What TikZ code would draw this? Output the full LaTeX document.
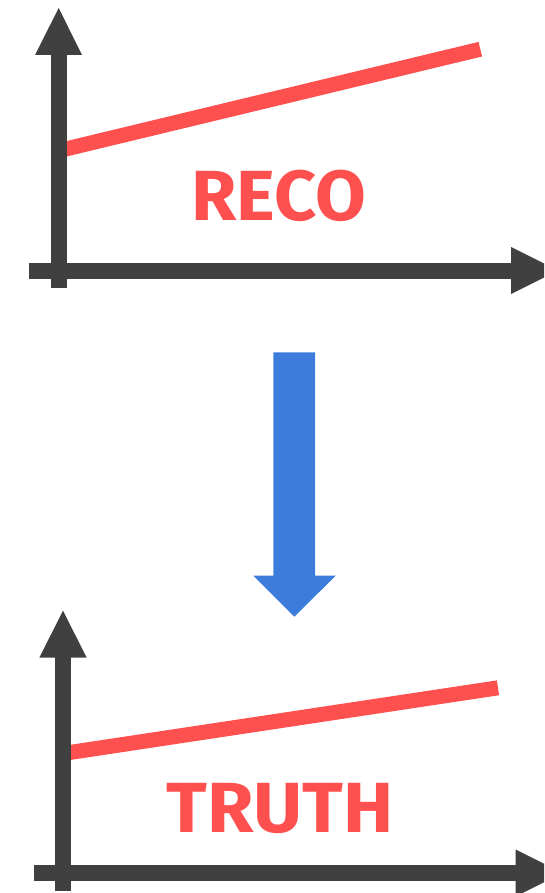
\documentclass[tikz,border=0pt]{standalone}
\usepackage{fontspec}
\setmainfont{Fira Sans}
\definecolor{axisgray}{HTML}{404040}
\definecolor{curvered}{HTML}{FF5050}
\definecolor{flowblue}{HTML}{3C7DDC}
\begin{document}
\begin{tikzpicture}[x=1pt,y=-1pt,
  axisline/.style={draw=axisgray,line width=16pt,line cap=butt},
  axishead/.style={fill=axisgray,draw=none},
  curve/.style={draw=curvered,line width=15pt,line cap=butt},
  label/.style={text=curvered,font=\fontsize{71}{71}\selectfont\bfseries,anchor=base,inner sep=0pt}]
\useasboundingbox (0,0) rectangle (544,893);
\clip (0,0) rectangle (544,893);
% ---------- top plot ----------
\coordinate (r1s) at (58.7,150.7);
\coordinate (r1e) at (480.3,49.2);
\draw[curve] (r1s) -- (r1e);
\coordinate (y1b) at (58.7,288);
\coordinate (y1h) at (58.7,55);
\draw[axisline] (y1b) -- ([yshift=1pt]y1h);
\fill[axishead] (35,55) -- (82,55) -- (58.7,8) -- cycle;
\coordinate (x1l) at (29.3,270.5);
\coordinate (x1h) at (511,270.5);
\draw[axisline] (x1l) -- ([xshift=1pt]x1h);
\fill[axishead] (511,247) -- (511,294) -- (558,270.5) -- cycle;
\node[label,xscale=1.036] (reco) at (278.8,221) {RECO};
% ---------- blue arrow ----------
\fill[flowblue] (273.3,352.3) -- (315,352.3) -- (315,575.7) -- (335.7,575.7)
  -- (294.3,616.7) -- (253.3,575.7) -- (273.3,575.7) -- cycle;
% ---------- bottom plot ----------
\coordinate (r2s) at (63,753.5);
\coordinate (r2e) at (498,687.8);
\draw[curve] (r2s) -- (r2e);
\coordinate (y2b) at (63,891);
\coordinate (y2h) at (63,657.7);
\draw[axisline] (y2b) -- ([yshift=1pt]y2h);
\fill[axishead] (39.3,657.7) -- (86.7,657.7) -- (63,610.7) -- cycle;
\coordinate (x2l) at (33.7,873);
\coordinate (x2h) at (515.7,873);
\draw[axisline] (x2l) -- ([xshift=1pt]x2h);
\fill[axishead] (515.7,849.5) -- (515.7,896.5) -- (562.7,873) -- cycle;
\node[label,xscale=1.062] (truth) at (280.2,832.3) {TRUTH};
\end{tikzpicture}
\end{document}
